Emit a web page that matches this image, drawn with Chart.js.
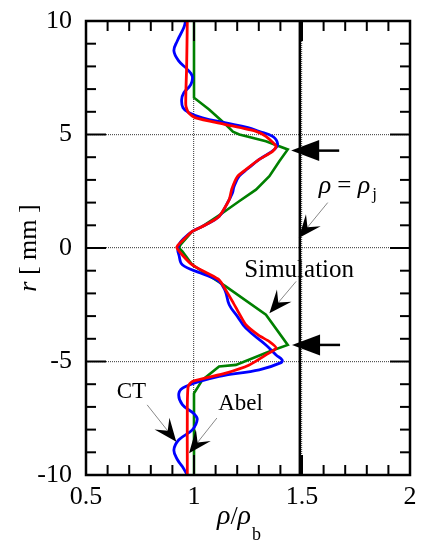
<!DOCTYPE html>
<html><head><meta charset="utf-8">
<script src="https://cdn.jsdelivr.net/npm/chart.js@4.4.1/dist/chart.umd.min.js"></script>
<style>html,body{margin:0;padding:0;background:#fff;overflow:hidden}</style>
</head><body>
<canvas id="c" width="422" height="548"></canvas>
<script>
// ---- data (r in mm, rho/rho_b) ----
const ctR   = [10, 9.71, 9.11, 8.68, 8.23, 7.87, 7.57, 7.2, 6.84, 6.54, 6.18, 5.96, 5.73, 5.51, 5.3, 5.14, 4.92, 4.6, 4.34, 3.9, 3.5, 3.16, 2.7, 2.43, 1.9, 1.39, 1.0, 0.73, 0.4, 0.15, -0.1, -0.3, -0.74, -1.1, -1.47, -1.9, -2.5, -3.0, -3.53, -4.27, -4.71, -4.93, -5.05, -5.37, -5.66, -6.1, -6.4, -6.9, -7.3, -7.55, -8.01, -8.45, -8.9, -9.35, -9.63, -10];
const ctRho = [0.961, 0.953, 0.922, 0.907, 0.930, 0.969, 0.992, 0.985, 0.953, 0.943, 0.949, 0.977, 1.039, 1.147, 1.25, 1.30, 1.364, 1.387, 1.372, 1.302, 1.25, 1.209, 1.185, 1.178, 1.15, 1.116, 1.05, 0.992, 0.95, 0.930, 0.925, 0.93, 0.946, 1.03, 1.116, 1.145, 1.163, 1.2, 1.24, 1.333, 1.38, 1.408, 1.403, 1.302, 1.116, 0.961, 0.930, 0.946, 1.0, 1.015, 0.992, 0.93, 0.907, 0.925, 0.946, 0.969];

const abelR   = [10, 8, 6.3, 5.95, 5.73, 5.44, 5.14, 4.92, 4.48, 4.26, 3.9, 3.45, 3.16, 2.6, 2.13, 1.39, 1.0, 0.73, 0.35, 0.03, -0.35, -0.74, -1.1, -1.4, -1.9, -2.35, -2.9, -3.38, -3.85, -4.12, -4.41, -4.71, -5.15, -5.51, -5.88, -6.1, -7, -10];
const abelRho = [0.969, 0.966, 0.962, 0.975, 1.008, 1.147, 1.287, 1.333, 1.38, 1.364, 1.302, 1.24, 1.202, 1.175, 1.163, 1.116, 1.05, 0.992, 0.95, 0.92, 0.95, 0.992, 1.06, 1.116, 1.15, 1.178, 1.21, 1.24, 1.3, 1.349, 1.38, 1.333, 1.256, 1.147, 0.992, 0.973, 0.969, 0.969];

const simR   = [10, 6.62, 6.1, 5.44, 5.12, 5.0, 4.7, 4.34, 3.82, 3.16, 2.57, 2.06, 1.54, 0.95, 0.73, 0.15, 0, -0.15, -0.74, -1.69, -2.94, -4.27, -4.56, -5.15, -5.22, -5.81, -6.4, -10];
const simRho = [1.0, 1.0, 1.07, 1.147, 1.18, 1.21, 1.333, 1.434, 1.395, 1.349, 1.287, 1.209, 1.132, 1.039, 0.992, 0.938, 0.93, 0.946, 0.992, 1.147, 1.333, 1.434, 1.349, 1.194, 1.116, 1.039, 1.0, 1.0];

const jetR   = [10, -10];
const jetRho = [1.49, 1.49];

const xTicks = [0.5, 1, 1.5, 2];
const yTicks = [-10, -5, 0, 5, 10];
const xMinor = [0.5,0.6,0.7,0.8,0.9,1.0,1.1,1.2,1.3,1.4,1.5,1.6,1.7,1.8,1.9,2.0];
const yMinor = [-10,-9,-8,-7,-6,-5,-4,-3,-2,-1,0,1,2,3,4,5,6,7,8,9,10];

const pts = (xs, ys) => xs.map((v, i) => ({x: v, y: ys[i]}));

const SERIF = '"Liberation Serif", "Times New Roman", serif';

function line(ctx, x1, y1, x2, y2) { ctx.beginPath(); ctx.moveTo(x1, y1); ctx.lineTo(x2, y2); ctx.stroke(); }

function leader(ctx, x1, y1, tx, ty) {
  ctx.save();
  ctx.strokeStyle = '#888'; ctx.lineWidth = 1;
  const dx = tx - x1, dy = ty - y1, len = Math.hypot(dx, dy);
  const ux = dx / len, uy = dy / len, nx = -uy, ny = ux;
  const L = 23, W = 9.5;
  line(ctx, x1, y1, tx - ux * L * 0.6, ty - uy * L * 0.6);
  ctx.fillStyle = '#000';
  ctx.beginPath();
  ctx.moveTo(tx, ty);
  ctx.lineTo(tx - ux * L + nx * W, ty - uy * L + ny * W);
  ctx.lineTo(tx - ux * L * 0.6, ty - uy * L * 0.6);
  ctx.lineTo(tx - ux * L - nx * W, ty - uy * L - ny * W);
  ctx.closePath(); ctx.fill();
  ctx.restore();
}

function bigArrow(ctx, tx, ty) {
  ctx.save();
  ctx.fillStyle = '#000'; ctx.strokeStyle = '#000'; ctx.lineWidth = 2.5;
  ctx.beginPath(); ctx.moveTo(tx, ty); ctx.lineTo(tx + 28, ty - 10.5); ctx.lineTo(tx + 28, ty + 10.5); ctx.closePath(); ctx.fill();
  line(ctx, tx + 26, ty, tx + 48, ty);
  ctx.restore();
}

const framePlugin = {
  id: 'frame',
  afterDatasetsDraw(chart) {
    const {ctx, chartArea: a, scales: {x, y}} = chart;
    const P = (vx, vy) => [x.getPixelForValue(vx), y.getPixelForValue(vy)];
    ctx.save();
    ctx.strokeStyle = '#000'; ctx.lineWidth = 2;
    xMinor.forEach(v => {
      const px = x.getPixelForValue(v);
      const L = (Math.abs(v * 2 - Math.round(v * 2)) < 1e-6) ? 20 : 10;
      line(ctx, px, a.top, px, a.top + L);
      line(ctx, px, a.bottom, px, a.bottom - L);
    });
    yMinor.forEach(v => {
      const py = y.getPixelForValue(v);
      const L = (v % 5 === 0) ? 20 : 10;
      line(ctx, a.left, py, a.left + L, py);
      line(ctx, a.right, py, a.right - L, py);
    });
    ctx.lineWidth = 2.5;
    ctx.strokeRect(a.left, a.top, a.right - a.left, a.bottom - a.top);

    // big arrows
    let p = P(1.45, 4.29); bigArrow(ctx, p[0], p[1]);
    p = P(1.454, -4.27); bigArrow(ctx, p[0], p[1]);

    // leaders
    let s = P(1.619, 2.0), t = P(1.485, 0.44); leader(ctx, s[0], s[1], t[0], t[1]);
    s = P(1.473, -1.47); t = P(1.349, -2.87); leader(ctx, s[0], s[1], t[0], t[1]);
    s = P(0.783, -6.91); t = P(0.918, -8.53); leader(ctx, s[0], s[1], t[0], t[1]);
    s = P(1.106, -7.49); t = P(0.977, -9.04); leader(ctx, s[0], s[1], t[0], t[1]);

    // annotation texts
    ctx.fillStyle = '#000'; ctx.textBaseline = 'alphabetic'; ctx.textAlign = 'left';
    ctx.font = '25px ' + SERIF;
    p = P(1.233, -1.27); ctx.fillText('Simulation', p[0], p[1]);
    ctx.font = '23px ' + SERIF;
    p = P(0.642, -6.6); ctx.fillText('CT', p[0], p[1]);
    p = P(1.112, -7.13); ctx.fillText('Abel', p[0], p[1]);
    // rho = rho_j
    p = P(1.577, 2.44);
    let cx = p[0];
    ctx.font = 'italic 26px ' + SERIF; ctx.fillText('ρ', cx, p[1]); cx += ctx.measureText('ρ').width;
    ctx.font = '25px ' + SERIF; ctx.fillText(' = ', cx, p[1]); cx += ctx.measureText(' = ').width;
    ctx.font = 'italic 26px ' + SERIF; ctx.fillText('ρ', cx, p[1]); cx += ctx.measureText('ρ').width + 2;
    ctx.font = '17px ' + SERIF; ctx.fillText('j', cx, p[1] + 6);

    // axis titles
    ctx.font = 'italic 28px ' + SERIF;
    let w1 = ctx.measureText('ρ').width;
    ctx.font = '26px ' + SERIF;
    let w2 = ctx.measureText('/').width;
    ctx.font = '18px ' + SERIF;
    let w3 = ctx.measureText('b').width;
    let total = w1 * 2 + w2 + w3 + 1;
    cx = 239 - total / 2; const by = 524;
    ctx.font = 'italic 28px ' + SERIF; ctx.fillText('ρ', cx, by); cx += w1;
    ctx.font = '26px ' + SERIF; ctx.fillText('/', cx, by); cx += w2;
    ctx.font = 'italic 28px ' + SERIF; ctx.fillText('ρ', cx, by); cx += w1 + 1;
    ctx.font = '18px ' + SERIF; ctx.fillText('b', cx, by + 16);

    ctx.save();
    ctx.translate(36, 248); ctx.rotate(-Math.PI / 2);
    ctx.font = 'italic 26px ' + SERIF; const wr = ctx.measureText('r').width;
    ctx.font = '26px ' + SERIF; const wm = ctx.measureText(' [ mm ]').width;
    let sx = -(wr + wm) / 2;
    ctx.font = 'italic 26px ' + SERIF; ctx.fillText('r', sx, 0);
    ctx.font = '26px ' + SERIF; ctx.fillText(' [ mm ]', sx + wr, 0);
    ctx.restore();
    ctx.restore();
  }
};

const gridColor = (vals) => (c) => (c.tick && vals.includes(c.tick.value)) ? '#555' : 'rgba(0,0,0,0)';
const noPad = s => { s.paddingTop = 0; s.paddingBottom = 0; s.paddingLeft = 0; s.paddingRight = 0; };

new Chart(document.getElementById('c'), {
  type: 'scatter',
  data: {
    datasets: [
      {label: 'Abel', data: pts(abelRho, abelR), borderColor: '#ff0000', borderWidth: 2.8, showLine: true, pointRadius: 0, tension: 0.2},
      {label: 'CT', data: pts(ctRho, ctR), borderColor: '#0000ff', borderWidth: 2.8, showLine: true, pointRadius: 0, tension: 0.4},
      {label: 'Simulation', data: pts(simRho, simR), borderColor: '#008000', borderWidth: 2.6, showLine: true, pointRadius: 0, tension: 0},
      {label: 'rho_j', data: pts(jetRho, jetR), borderColor: '#000', borderWidth: 2.5, showLine: true, pointRadius: 0, tension: 0}
    ]
  },
  options: {
    responsive: false, animation: false, devicePixelRatio: 1,
    layout: {padding: {top: 21, right: 12, left: 0, bottom: 0}},
    plugins: {legend: {display: false}, tooltip: {enabled: false}},
    scales: {
      x: {
        type: 'linear', min: 0.5, max: 2,
        afterBuildTicks: s => { s.ticks = xTicks.map(v => ({value: v})); },
        afterFit: s => { s.height = 73; noPad(s); },
        ticks: {font: {family: SERIF, size: 26}, color: '#000', padding: 7, maxRotation: 0, autoSkip: false, callback: v => String(v)},
        grid: {drawTicks: false, color: gridColor([1, 1.5]), lineWidth: 1.2},
        border: {display: false, dash: [1, 1]}
      },
      y: {
        type: 'linear', min: -10, max: 10,
        afterBuildTicks: s => { s.ticks = yTicks.map(v => ({value: v})); },
        afterFit: s => { s.width = 86; noPad(s); },
        ticks: {font: {family: SERIF, size: 26}, color: '#000', padding: 14, autoSkip: false, callback: v => String(v)},
        grid: {drawTicks: false, color: gridColor([-5, 0, 5]), lineWidth: 1.2},
        border: {display: false, dash: [1, 1]}
      }
    }
  },
  plugins: [framePlugin]
});
</script>
</body></html>
